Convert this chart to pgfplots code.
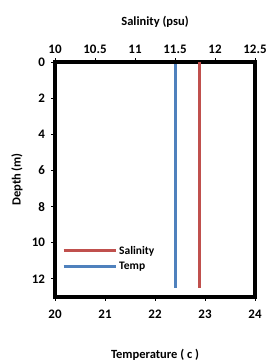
\documentclass[border=0pt]{standalone}
\usepackage{fontspec}
\setmainfont{Carlito}
\usepackage{pgfplots}
\pgfplotsset{compat=1.18}
\definecolor{exred}{RGB}{192,80,77}
\definecolor{exblue}{RGB}{79,129,189}
\begin{document}
\begin{tikzpicture}[x=1pt,y=1pt]
\useasboundingbox (0,0) rectangle (269,363);
\pgfplotsset{
  common/.style={
    at={(55pt,66pt)}, anchor=south west,
    scale only axis, width=200pt, height=235pt,
    ymin=0, ymax=13, y dir=reverse,
    axis line style={line width=4.5pt, line cap=rect},
    tick align=outside, major tick length=3.5pt,
    tick style={black, line width=0.9pt},
    /pgf/number format/assume math mode=true,
    ticklabel style={font=\fontsize{13}{15}\selectfont\bfseries},
    label style={font=\fontsize{12.5}{14}\selectfont\bfseries},
  }
}
\begin{axis}[common,
  xmin=20, xmax=24, xtick={20,21,22,23,24},
  xtick pos=bottom, xticklabel pos=lower,
  ytick={0,2,4,6,8,10,12}, ytick pos=left,
  xticklabel style={yshift=-6pt},
  yticklabel style={xshift=-3pt},
  xlabel={Temperature ( c )},
  xlabel style={at={(axis description cs:0.5,-0.248)}, anchor=center},
  ylabel={Depth (m)},
  ylabel style={at={(axis description cs:-0.19,0.5)}, anchor=center, rotate=0},
  legend style={draw=none, fill=none, at={(axis description cs:0.02,0.235)}, anchor=north west,
    font=\fontsize{11.5}{13}\selectfont\bfseries, row sep=2pt},
  legend cell align=left,
  legend image code/.code={\draw[#1, line width=3pt] (0pt,0pt) -- (52pt,0pt);},
]
\addlegendimage{exred, line width=3pt}
\addlegendentry{Salinity}
\addplot[exblue, line width=3pt] coordinates {(22.40,0) (22.40,2) (22.40,4) (22.40,6) (22.40,8) (22.40,10) (22.40,12.5)};
\addlegendentry{Temp}
\end{axis}
\begin{axis}[common,
  xmin=10, xmax=12.5, xtick={10,10.5,11,11.5,12,12.5},
  xtick pos=upper, xticklabel pos=upper,
  ytick=\empty,
  xticklabel style={yshift=1pt},
  title={Salinity (psu)},
  title style={at={(axis description cs:0.5,1.147)}, anchor=center, font=\fontsize{12.5}{14}\selectfont\bfseries},
]
\addplot[exred, line width=3pt] coordinates {(11.8,0) (11.8,2) (11.8,4) (11.8,6) (11.8,8) (11.8,10) (11.8,12.5)};
\end{axis}
\end{tikzpicture}
\end{document}
